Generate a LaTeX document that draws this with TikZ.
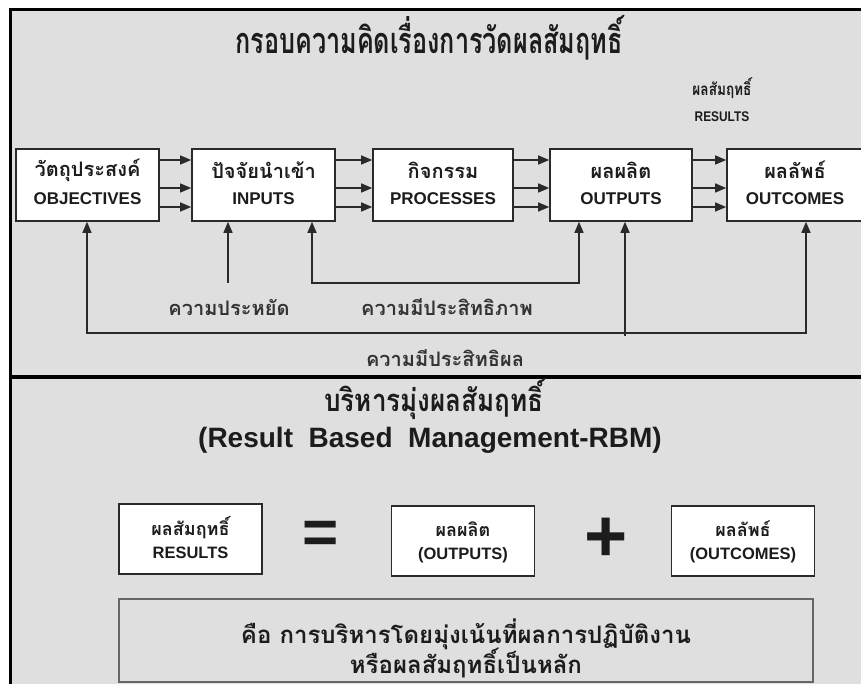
\documentclass[tikz,border=0pt]{standalone}
\usepackage{fontspec}
\setmainfont{Liberation Sans}
\newfontfamily\thai[Script=Thai]{Loma}
\usetikzlibrary{arrows.meta}
\definecolor{bg}{HTML}{DFDFDF}
\definecolor{ink}{HTML}{1C1C1C}
\definecolor{edge}{HTML}{2A2A2A}
\definecolor{soft}{HTML}{333333}
\begin{document}
\begin{tikzpicture}[x=1pt,y=-1pt,
  tbox/.style={draw=edge, line width=1.6pt, fill=white, minimum height=72pt, inner sep=0pt},
  sbox/.style={draw=edge, line width=1.6pt, fill=white, minimum width=143pt, minimum height=70pt, inner sep=0pt},
  conn/.style={draw=edge, line width=1.4pt},
  hd/.style={-{Triangle[length=11pt,width=9pt]}},
  hdboth/.style={{Triangle[length=11pt,width=9pt]}-{Triangle[length=11pt,width=9pt]}},
  thtxt/.style={text=ink, font=\thai\bfseries\fontsize{20}{22}\selectfont, inner sep=0pt},
  entxt/.style={text=ink, font=\bfseries\fontsize{17}{19}\selectfont, inner sep=0pt},
  lbl/.style={text=soft, font=\thai\bfseries\fontsize{20}{22}\selectfont, inner sep=0pt},
  sth/.style={text=ink, font=\thai\bfseries\fontsize{18}{20}\selectfont, inner sep=0pt},
  sen/.style={text=ink, font=\bfseries\fontsize{16.5}{18}\selectfont, inner sep=0pt},
  bth/.style={text=ink, font=\thai\bfseries\fontsize{24}{26}\selectfont, inner sep=0pt},
  ]
\useasboundingbox (0,0) rectangle (861,684);
\clip (0,0) rectangle (861,684);
\fill[bg] (10,10) rectangle (866,690);
\draw[line width=3pt] (10,690) -- (10,10) -- (866,10);
\draw[line width=4pt] (10,377) -- (866,377);

% ---------- top section ----------
\node[text=ink, font=\thai\bfseries\fontsize{36}{40}\selectfont, inner sep=0pt] (title1) at (429,38) {\scalebox{0.7}[1]{กรอบความคิดเรื่องการวัดผลสัมฤทธิ์}};
\node[text=ink, font=\thai\bfseries\fontsize{17}{19}\selectfont, inner sep=0pt] (resth) at (722,88) {\scalebox{0.8}[1]{ผลสัมฤทธิ์}};
\node[text=ink, font=\bfseries\fontsize{14}{16}\selectfont, inner sep=0pt] (resen) at (722,117) {\scalebox{0.85}[1]{RESULTS}};

\node[tbox, minimum width=143pt] (b1) at (87.5,185) {};
\node[tbox, minimum width=143pt] (b2) at (263.5,185) {};
\node[tbox, minimum width=140pt] (b3) at (443,185) {};
\node[tbox, minimum width=142pt] (b4) at (621,185) {};
\node[tbox, minimum width=136pt] (b5) at (795,185) {};

\node[thtxt] (b1t) at ([yshift=15pt]b1.center) {วัตถุประสงค์};
\node[entxt] (b1e) at ([yshift=-14pt]b1.center) {OBJECTIVES};
\node[thtxt] (b2t) at ([yshift=15pt]b2.center) {ปัจจัยนำเข้า};
\node[entxt] (b2e) at ([yshift=-14pt]b2.center) {INPUTS};
\node[thtxt] (b3t) at ([yshift=15pt]b3.center) {กิจกรรม};
\node[entxt] (b3e) at ([yshift=-14pt]b3.center) {PROCESSES};
\node[thtxt] (b4t) at ([yshift=15pt]b4.center) {ผลผลิต};
\node[entxt] (b4e) at ([yshift=-14pt]b4.center) {OUTPUTS};
\node[thtxt] (b5t) at ([yshift=15pt]b5.center) {ผลลัพธ์};
\node[entxt] (b5e) at ([yshift=-14pt]b5.center) {OUTCOMES};

\foreach \a/\b in {b1/b2,b2/b3,b3/b4,b4/b5}{
  \foreach \yy in {160,188,207}{
    \draw[conn,hd] (\a.east |- 0,\yy) -- (\b.west |- 0,\yy);
  }
}

% bottom connectors
\coordinate (e1) at (228,283);
\draw[conn,hd] (e1) -- (b2.south -| e1);
\coordinate (f1) at (312,283);
\coordinate (f2) at (579,283);
\draw[conn,hdboth] (b2.south -| f1) -- (f1) -- (f2) -- (b4.south -| f2);
\coordinate (g1) at (87,333);
\coordinate (g2) at (625,336);
\coordinate (g3) at (806,333);
\draw[conn,hdboth] (b1.south -| g1) -- (g1) -- (g3) -- (b5.south -| g3);
\draw[conn,hd] (g2) -- (b4.south -| g2);

\node[lbl] (l1) at (229,307) {ความประหยัด};
\node[lbl] (l2) at (447,307) {ความมีประสิทธิภาพ};
\node[lbl] (l3) at (445,358) {ความมีประสิทธิผล};

% ---------- bottom section ----------
\node[text=ink, font=\thai\bfseries\fontsize{31}{34}\selectfont, inner sep=0pt, text height=22pt, text depth=4pt] (title2) at (434,402) {\scalebox{0.84}[1]{บริหารมุ่งผลสัมฤทธิ์}};
\node[text=ink, font=\bfseries\fontsize{28}{32}\selectfont, inner sep=0pt] (title3) at (430,440) {(Result\ \ Based\ \ Management-RBM)};

\node[sbox] (r1) at (190.5,539) {};
\node[sbox] (r2) at (463,541) {};
\node[sbox] (r3) at (743,541) {};
\node[sth] (r1t) at ([yshift=11pt]r1.center) {ผลสัมฤทธิ์};
\node[sen] (r1e) at ([yshift=-14pt]r1.center) {RESULTS};
\node[sth] (r2t) at ([yshift=12pt]r2.center) {ผลผลิต};
\node[sen] (r2e) at ([yshift=-14pt]r2.center) {(OUTPUTS)};
\node[sth] (r3t) at ([yshift=12pt]r3.center) {ผลลัพธ์};
\node[sen] (r3e) at ([yshift=-14pt]r3.center) {(OUTCOMES)};

\node[text=ink, font=\bfseries\fontsize{62}{62}\selectfont, inner sep=0pt] (eq) at (321,537) {=};
\node[text=ink, font=\bfseries\fontsize{74}{74}\selectfont, inner sep=0pt] (plus) at (606,540) {+};

\node[draw=black!60, line width=1.6pt, fill=bg, minimum width=694pt, minimum height=83pt, inner sep=0pt] (big) at (466,640.5) {};
\node[bth] (bt1) at ([yshift=6.5pt]big.center) {คือ การบริหารโดยมุ่งเน้นที่ผลการปฏิบัติงาน};
\node[bth] (bt2) at ([yshift=-22.5pt]big.center) {หรือผลสัมฤทธิ์เป็นหลัก};
\end{tikzpicture}
\end{document}
